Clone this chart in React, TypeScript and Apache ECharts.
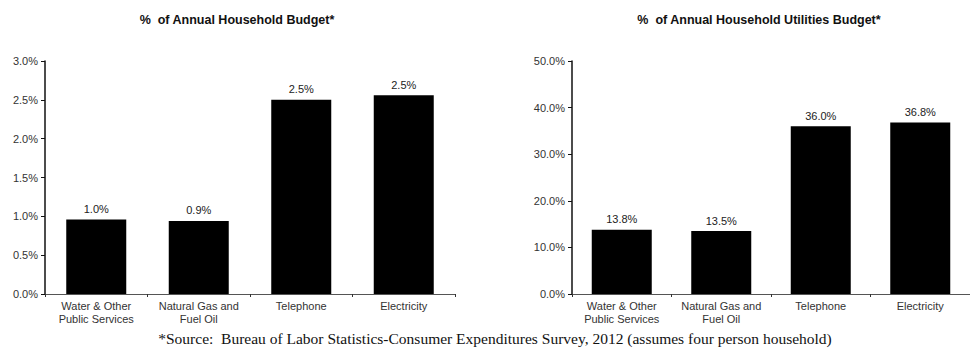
import React, { useEffect, useRef } from "react";
import * as echarts from "echarts";

const categories = ["Water & Other\nPublic Services", "Natural Gas and\nFuel Oil", "Telephone", "Electricity"];
const budgetValues = [0.96, 0.94, 2.5, 2.56];
const budgetLabels = ["1.0%", "0.9%", "2.5%", "2.5%"];
const utilValues = [13.8, 13.5, 36.0, 36.8];
const utilLabels = ["13.8%", "13.5%", "36.0%", "36.8%"];
const leftTitle = "%  of Annual Household Budget*";
const rightTitle = "%  of Annual Household Utilities Budget*";
const sourceText = "*Source:  Bureau of Labor Statistics-Consumer Expenditures Survey, 2012 (assumes four person household)";

const FONT = "'Liberation Sans', Arial, sans-serif";

export default function App() {
  const ref = useRef<HTMLDivElement>(null);
  useEffect(() => {
    if (!ref.current) return;
    const chart = echarts.init(ref.current, null, { renderer: "svg" });
    const axisLabel = { color: "#333", fontSize: 11, fontFamily: FONT };
    const xAxisCommon = (gi: number) => ({
      type: "category" as const,
      gridIndex: gi,
      data: categories,
      axisLine: { lineStyle: { color: "#555", width: 1 } },
      axisTick: { show: true, length: 3, lineStyle: { color: "#333" } },
      axisLabel: { ...axisLabel, margin: 5, lineHeight: 13, interval: 0 },
    });
    const yAxisCommon = (gi: number, max: number, interval: number, dec: number) => ({
      type: "value" as const,
      gridIndex: gi,
      min: 0,
      max,
      interval,
      splitLine: { show: false },
      axisLine: { show: true, lineStyle: { color: "#111", width: 1.5 } },
      axisTick: { show: true, length: 4, lineStyle: { color: "#111" } },
      axisLabel: { ...axisLabel, margin: 7, formatter: (v: number) => v.toFixed(dec) + "%" },
    });
    const titleStyle = { fontSize: 12.5, fontWeight: "bold" as const, fontFamily: FONT, color: "#111" };
    chart.setOption({
      animation: false,
      title: [
        { text: leftTitle, left: 232, top: 8, textAlign: "center", textStyle: titleStyle },
        { text: rightTitle, left: 754, top: 8, textAlign: "center", textStyle: titleStyle },
      ],
      graphic: [
        {
          type: "text",
          x: 495,
          y: 338,
          style: {
            text: sourceText,
            font: "15.5px 'Liberation Serif', 'Times New Roman', serif",
            fill: "#111",
            textAlign: "center",
            textVerticalAlign: "middle",
          },
        },
      ],
      grid: [
        { left: 45, top: 61, width: 410, height: 233 },
        { left: 572, top: 61, width: 408, height: 233 },
      ],
      xAxis: [xAxisCommon(0), xAxisCommon(1)],
      yAxis: [yAxisCommon(0, 3, 0.5, 1), yAxisCommon(1, 50, 10, 1)],
      series: [
        {
          type: "bar",
          xAxisIndex: 0,
          yAxisIndex: 0,
          data: budgetValues,
          barWidth: 60,
          itemStyle: { color: "#000" },
          label: {
            show: true,
            position: "top",
            distance: 5,
            color: "#222",
            fontSize: 11,
            fontFamily: FONT,
            formatter: (p: any) => budgetLabels[p.dataIndex],
          },
        },
        {
          type: "bar",
          xAxisIndex: 1,
          yAxisIndex: 1,
          data: utilValues,
          barWidth: 60,
          itemStyle: { color: "#000" },
          label: {
            show: true,
            position: "top",
            distance: 5,
            color: "#222",
            fontSize: 11,
            fontFamily: FONT,
            formatter: (p: any) => utilLabels[p.dataIndex],
          },
        },
      ],
    });
    return () => chart.dispose();
  }, []);
  return (
    <div
      ref={ref}
      style={{ position: "fixed", left: 0, top: 0, width: 970, height: 348, background: "#fff" }}
    />
  );
}
